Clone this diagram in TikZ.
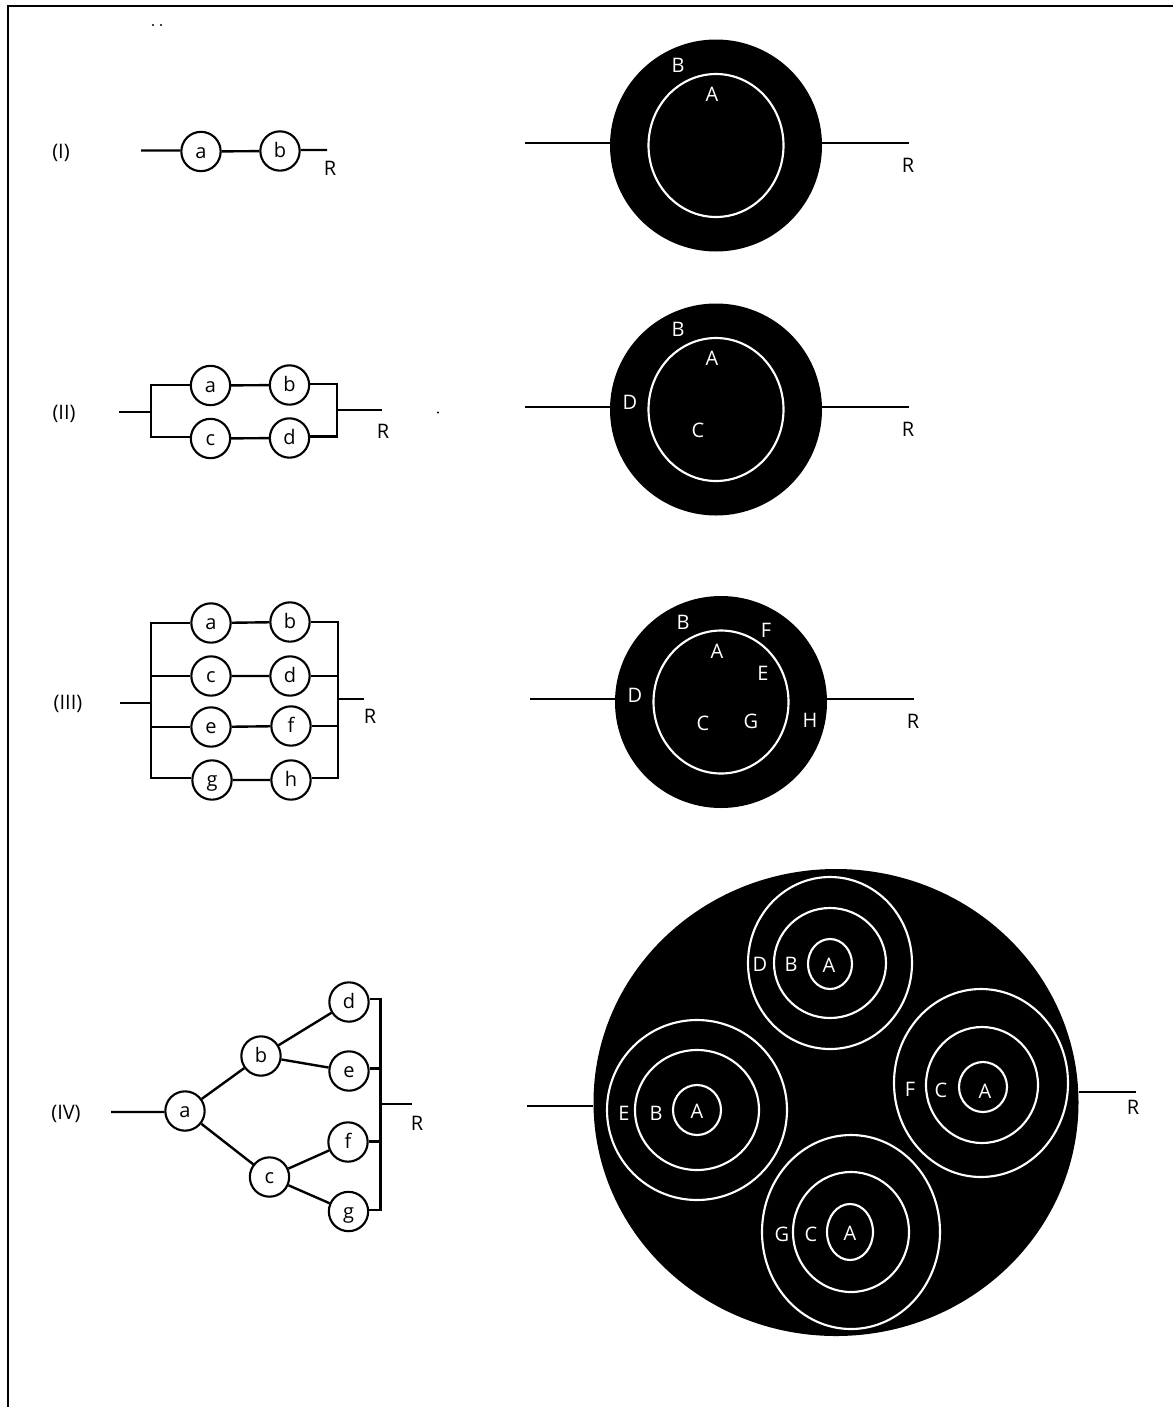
\documentclass[tikz,border=0pt]{standalone}
\usepackage{fontspec}
\usetikzlibrary{shapes.geometric}
\setmainfont{Open Sans}
\tikzset{
 px/.style={x=0.75pt,y=-0.75pt},
 wire/.style={line width=1.8pt,draw=black},
 frameline/.style={line width=2.2pt,draw=black},
 gate/.style={circle,draw=black,line width=1.6pt,fill=white,minimum size=29.5pt,inner sep=0pt,text height=9.8pt,text depth=0pt,font=\fontsize{15}{17}\selectfont},
 lab/.style={inner sep=0pt,font=\fontsize{15}{17}\selectfont},
 wlab/.style={lab,text=white},
 disk/.style={circle,fill=black,inner sep=0pt,minimum size=159pt},
 bigdisk/.style={ellipse,fill=black,inner sep=0pt,minimum width=363.75pt,minimum height=350.25pt},
 ring/.style={draw=white,line width=1.6pt,fill=none},
}
\begin{document}
\begin{tikzpicture}[px]
\useasboundingbox (0,0) rectangle (1173,1407);
\fill[white] (0,0) rectangle (1173,1407);
\coordinate (fa) at (8,1407); \coordinate (fb) at (8,6); \coordinate (fc) at (1173,6);
\draw[frameline] (fa) -- (fb) -- (fc);
\fill (153,25) circle (1.1) (161,25) circle (1.1) (438,412.5) circle (1.1);
% I
\node[lab] at (61,153) {(I)};
\coordinate (i0) at (141,150.5); \coordinate (i1) at (327,150);
\node[gate] (ia) at (201,151.5) {a};
\node[gate] (ib) at (280,151) {b};
\draw[wire] (i0) -- (ia.west |- i0) (ia) -- (ib) (ib.east |- i1) -- (i1);
\node[lab] at (330,168) {R};
% II
\node[lab] at (64,414) {(II)};
\node[gate] (iia) at (210.5,385.5) {a};
\node[gate] (iib) at (289.5,385) {b};
\node[gate] (iic) at (210.5,438.5) {c};
\node[gate] (iid) at (289.5,438) {d};
\coordinate (ii0) at (119,412); \coordinate (iil) at (151,412);
\coordinate (iir) at (337,410); \coordinate (ii1) at (382,410);
\coordinate (iilt) at (151,385); \coordinate (iilb) at (151,437);
\coordinate (iirt) at (337,384); \coordinate (iirb) at (337,436.5);
\draw[wire] (iia) -- (iib) (iic) -- (iid);
\draw[wire] (ii0) -- (iil) (iir) -- (ii1);
\draw[wire,line join=miter] (iia.west |- iilt) -- (iilt) -- (iilb) -- (iic.west |- iilb);
\draw[wire,line join=miter] (iib.east |- iirt) -- (iirt) -- (iirb) -- (iid.east |- iirb);
\node[lab] at (383,431) {R};
% III
\node[lab] at (68,704) {(III)};
\node[gate] (a3) at (211,623) {a};
\node[gate] (b3) at (290,622) {b};
\node[gate] (c3) at (211,676) {c};
\node[gate] (d3) at (290,676) {d};
\node[gate] (e3) at (211,727) {e};
\node[gate] (f3) at (291,726) {f};
\node[gate] (g3) at (212,780) {g};
\node[gate] (h3) at (291,780) {h};
\coordinate (l0) at (120,703); \coordinate (lm) at (151,703);
\coordinate (rm) at (338,699); \coordinate (r1) at (364,699);
\coordinate (lt) at (151,623); \coordinate (lb) at (151,778);
\coordinate (rt) at (338,622); \coordinate (rb) at (338,778);
\coordinate (lc) at (151,676); \coordinate (le) at (151,727);
\coordinate (rd) at (338,676); \coordinate (rf) at (338,726);
\draw[wire] (a3) -- (b3) (c3) -- (d3) (e3) -- (f3) (g3) -- (h3);
\draw[wire] (l0) -- (lm) (rm) -- (r1);
\draw[wire,line join=miter] (a3.west |- lt) -- (lt) -- (lb) -- (g3.west |- lb);
\draw[wire] (c3.west |- lc) -- (lc) (e3.west |- le) -- (le);
\draw[wire,line join=miter] (b3.east |- rt) -- (rt) -- (rb) -- (h3.east |- rb);
\draw[wire] (d3.east |- rd) -- (rd) (f3.east |- rf) -- (rf);
\node[lab] at (370,716) {R};
% IV
\node[lab] at (66,1114) {(IV)};
\node[gate] (a4) at (185,1111) {a};
\node[gate] (b4) at (261,1056) {b};
\node[gate] (c4) at (269.5,1177) {c};
\node[gate] (d4) at (349,1002) {d};
\node[gate] (e4) at (349,1071) {e};
\node[gate] (f4) at (348,1142) {f};
\node[gate] (g4) at (348.5,1211.5) {g};
\coordinate (s4) at (111,1112); \coordinate (rm4) at (380.5,1104); \coordinate (r4) at (412,1104);
\coordinate (bt) at (380.5,999); \coordinate (bb) at (380.5,1210);
\coordinate (be) at (380.5,1068.5); \coordinate (bf) at (380.5,1141.5);
\draw[wire] (s4) -- (a4.west |- s4) (a4) -- (b4) (a4) -- (c4) (b4) -- (d4) (b4) -- (e4) (c4) -- (f4) (c4) -- (g4);
\draw[wire,line join=miter] (d4.east |- bt) -- (bt) -- (bb) -- (g4.east |- bb);
\draw[wire] (e4.east |- be) -- (be) (f4.east |- bf) -- (bf);
\draw[wire] (rm4) -- (r4);
\node[lab] at (417,1123) {R};
% Right I
\node[disk] (D1) at (716,145.5) {};
\coordinate (D1l) at (525,143); \coordinate (D1r) at (909,143);
\draw[wire] (D1l) -- (D1.west |- D1l) (D1.east |- D1r) -- (D1r);
\draw[ring] (716,145.5) ellipse (67.5 and 71.5);
\node[wlab] at (678,65) {B}; \node[wlab] at (712,94) {A};
\node[lab] at (908,165) {R};
% Right II
\node[disk] (D2) at (716,409.5) {};
\coordinate (D2l) at (525,407); \coordinate (D2r) at (909,407);
\draw[wire] (D2l) -- (D2.west |- D2l) (D2.east |- D2r) -- (D2r);
\draw[ring] (716,409.5) ellipse (67.5 and 71.5);
\node[wlab] at (678,329) {B}; \node[wlab] at (712,358) {A};
\node[wlab] at (630,402) {D}; \node[wlab] at (698,430) {C};
\node[lab] at (908,429) {R};
% Right III
\node[disk] (D3) at (721,702) {};
\coordinate (D3l) at (530,699); \coordinate (D3r) at (914,699);
\draw[wire] (D3l) -- (D3.west |- D3l) (D3.east |- D3r) -- (D3r);
\draw[ring] (721,702) ellipse (67.5 and 71.5);
\node[wlab] at (683,622) {B}; \node[wlab] at (717,651) {A};
\node[wlab] at (766,630) {F}; \node[wlab] at (763,673) {E};
\node[wlab] at (635,695) {D}; \node[wlab] at (703,723) {C};
\node[wlab] at (751,721) {G}; \node[wlab] at (810,720) {H};
\node[lab] at (913,721) {R};
% Right IV
\node[bigdisk] (D4) at (836,1102.5) {};
\coordinate (D4l) at (527,1106); \coordinate (D4r) at (1136,1092);
\draw[wire] (D4l) -- (D4.west |- D4l) (D4.east |- D4r) -- (D4r);
\draw[ring] (830,963) ellipse (82 and 86);
\draw[ring] (830,963) ellipse (56 and 55);
\draw[ring] (830,964) ellipse (22 and 25);
\node[wlab] at (760,964) {D}; \node[wlab] at (791,964) {B}; \node[wlab] at (829,965) {A};
\draw[ring] (981,1083) ellipse (87 and 94);
\draw[ring] (982,1085) ellipse (56 and 58);
\draw[ring] (983,1087) ellipse (24 and 25);
\node[wlab] at (910,1089) {F}; \node[wlab] at (941,1090) {C}; \node[wlab] at (985,1091) {A};
\draw[ring] (697,1110) ellipse (90 and 90);
\draw[ring] (697,1110) ellipse (62 and 60);
\draw[ring] (697,1110) ellipse (24 and 25);
\node[wlab] at (624,1113) {E}; \node[wlab] at (656,1113) {B}; \node[wlab] at (697,1111) {A};
\draw[ring] (851,1232) ellipse (89 and 97);
\draw[ring] (851,1232) ellipse (58 and 60);
\draw[ring] (850,1232) ellipse (23 and 28);
\node[wlab] at (782,1234) {G}; \node[wlab] at (811,1234) {C}; \node[wlab] at (850,1233) {A};
\node[lab] at (1133,1107) {R};
\end{tikzpicture}
\end{document}
